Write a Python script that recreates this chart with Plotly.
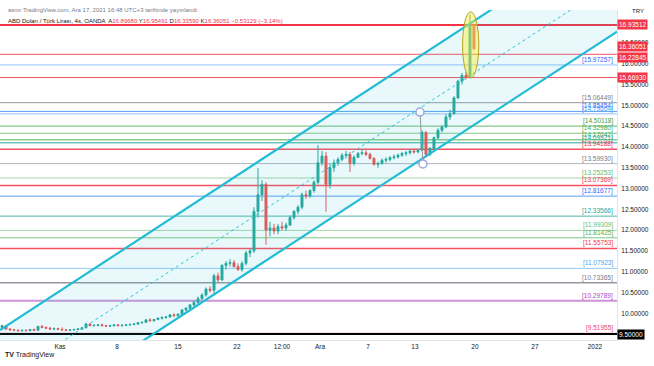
import plotly.graph_objects as go

# ---------------- data ----------------
# 8-hour bars of USD/TRY, x = trading-day index (0 = Mon 25 Oct 2021)
opens = [
    9.66, 9.70, 9.62,  9.60, 9.59, 9.58,  9.59, 9.58, 9.61,  9.59, 9.68, 9.66,  9.64, 9.62, 9.63,
    9.61, 9.60, 9.59,  9.60, 9.61, 9.62,  9.65, 9.74, 9.70,  9.71, 9.72, 9.70,  9.69, 9.70, 9.72,
    9.70, 9.71, 9.72,  9.73, 9.74, 9.77,  9.78, 9.84, 9.82,  9.85, 9.88, 9.90,  9.91, 9.96, 9.94,
    9.98, 10.08, 10.12,  10.20, 10.26, 10.35,  10.44, 10.58, 10.55,  10.90, 10.80, 11.15,  11.20, 11.22, 11.12,
    11.05, 11.20, 11.45,  11.50, 12.45, 12.85,  13.10, 12.00, 12.05,  11.98, 12.08, 12.05,  12.12, 12.30, 12.45,
    12.55, 12.85, 12.82,  12.95, 13.15, 13.62,  13.78, 13.10, 13.50,  13.62, 13.70, 13.80,  13.82, 13.60, 13.75,
    13.84, 13.86, 13.82,  13.72, 13.58, 13.60,  13.68, 13.70, 13.74,  13.76, 13.80, 13.84,  13.86, 13.90, 13.88,
    13.92, 14.35, 13.82,  13.96, 14.22, 14.40,  14.48, 14.72, 14.80,  15.18, 15.58, 15.72,  15.68, 16.8968,
]
highs = [
    9.72, 9.71, 9.64,  9.62, 9.61, 9.60,  9.61, 9.62, 9.63,  9.70, 9.72, 9.68,  9.67, 9.66, 9.65,
    9.66, 9.62, 9.61,  9.62, 9.64, 9.66,  9.77, 9.76, 9.73,  9.74, 9.75, 9.72,  9.72, 9.73, 9.74,
    9.73, 9.74, 9.75,  9.76, 9.78, 9.80,  9.86, 9.88, 9.86,  9.90, 9.92, 9.93,  9.98, 10.00, 9.99,
    10.10, 10.15, 10.22,  10.30, 10.40, 10.48,  10.62, 10.65, 10.95,  10.98, 11.18, 11.25,  11.30, 11.28, 11.20,
    11.25, 11.50, 11.55,  12.55, 13.49, 13.20,  13.15, 12.20, 12.15,  12.15, 12.20, 12.18,  12.35, 12.48, 12.60,
    12.90, 12.95, 12.98,  13.20, 14.05, 13.90,  13.88, 13.60, 13.70,  13.75, 13.85, 13.90,  13.88, 13.80, 13.88,
    13.95, 13.92, 13.86,  13.76, 13.65, 13.72,  13.75, 13.78, 13.82,  13.84, 13.88, 13.90,  13.94, 13.96, 13.95,
    14.40, 14.38, 14.00,  14.25, 14.45, 14.52,  14.78, 14.90, 15.22,  15.62, 15.78, 15.80,  17.20, 16.95491,
]
lows = [
    9.63, 9.60, 9.58,  9.57, 9.56, 9.56,  9.57, 9.57, 9.58,  9.58, 9.64, 9.62,  9.60, 9.59, 9.60,
    9.58, 9.57, 9.57,  9.58, 9.59, 9.60,  9.64, 9.69, 9.68,  9.68, 9.69, 9.67,  9.67, 9.68, 9.69,
    9.68, 9.69, 9.70,  9.71, 9.72, 9.75,  9.77, 9.80, 9.80,  9.83, 9.85, 9.87,  9.89, 9.92, 9.92,
    9.97, 10.04, 10.10,  10.16, 10.22, 10.32,  10.40, 10.50, 10.45,  10.75, 10.78, 11.05,  11.12, 11.10, 11.02,
    11.00, 11.15, 11.35,  11.45, 12.30, 12.70,  11.65, 11.85, 11.90,  11.90, 12.00, 11.98,  12.10, 12.25, 12.38,
    12.50, 12.75, 12.78,  12.90, 13.10, 13.55,  12.44, 13.00, 13.40,  13.55, 13.65, 13.72,  13.40, 13.55, 13.74,
    13.80, 13.78, 13.70,  13.55, 13.50, 13.58,  13.62, 13.65, 13.70,  13.72, 13.76, 13.78,  13.82, 13.84, 13.85,
    13.90, 13.75, 13.78,  13.92, 14.18, 14.35,  14.45, 14.65, 14.78,  15.15, 15.50, 15.62,  15.65, 16.3359,
]
closes = [
    9.70, 9.62, 9.60,  9.59, 9.58, 9.59,  9.58, 9.61, 9.59,  9.68, 9.66, 9.64,  9.62, 9.63, 9.61,
    9.60, 9.59, 9.60,  9.61, 9.62, 9.65,  9.74, 9.70, 9.71,  9.72, 9.70, 9.69,  9.70, 9.72, 9.70,
    9.71, 9.72, 9.73,  9.74, 9.77, 9.78,  9.84, 9.82, 9.85,  9.88, 9.90, 9.91,  9.96, 9.94, 9.98,
    10.08, 10.12, 10.20,  10.26, 10.35, 10.44,  10.58, 10.55, 10.90,  10.80, 11.15, 11.20,  11.22, 11.12, 11.05,
    11.20, 11.45, 11.50,  12.45, 12.85, 13.10,  12.00, 12.05, 11.98,  12.08, 12.05, 12.12,  12.30, 12.45, 12.55,
    12.85, 12.82, 12.95,  13.15, 13.62, 13.78,  13.10, 13.50, 13.62,  13.70, 13.80, 13.82,  13.60, 13.75, 13.84,
    13.86, 13.82, 13.72,  13.58, 13.60, 13.68,  13.70, 13.74, 13.76,  13.80, 13.84, 13.86,  13.90, 13.88, 13.92,
    14.35, 13.82, 13.96,  14.22, 14.40, 14.48,  14.72, 14.80, 15.18,  15.58, 15.72, 15.68,  16.90, 16.36051,
]
bars_per_day = 3

# horizontal levels: value, line colour, line width, label colour (None = no bracket label)
level_values = [16.93512, 16.22845, 15.97257, 15.66930, 15.06449, 14.85454, 14.79604, 14.50118,
                14.32980, 14.17042, 14.09921, 13.94188, 13.59930, 13.25253, 13.07369, 12.81677,
                12.33566, 11.99309, 11.81425, 11.55753, 11.07923, 10.73365, 10.29789, 9.51955, 9.50000]
level_line_colors = ["#f23645", "#f7525f", "#90bff9", "#f7525f", "#9598a1", "#5b9cf6", "#90bff9", "#66bb6a",
                     "#81c784", "#4caf50", "#26a69a", "#f7525f", "#b2b5be", "#a5d6a7", "#f7525f", "#5b9cf6",
                     "#4db6ac", "#a5d6a7", "#81c784", "#f7525f", "#90caf9", "#9598a1", "#ce93d8", "#f48fb1", "#000000"]
level_widths = [2, 1, 1, 1, 1, 1, 1, 1, 1, 1, 1, 1.5, 1, 1, 1.5, 1, 1, 1, 1, 1.5, 1, 1.5, 2, 1, 2]
level_label_colors = [None, None, "#2962ff", None, "#787b86", "#2962ff", "#42a5f5", "#43a047",
                      "#4caf50", "#4caf50", "#26a69a", "#f23645", "#787b86", "#66bb6a", "#f23645", "#2962ff",
                      "#26a69a", "#66bb6a", "#4caf50", "#f23645", "#42a5f5", "#787b86", "#ab47bc", "#ec407a", None]

# price-scale badges: value, background, vertical nudge (px)
badge_values = [16.93512, 16.36051, 16.22845, 15.66930, 9.50000]
badge_colors = ["#f23645", "#f23645", "#f23645", "#f23645", "#000000"]
badge_nudge = [0, 2, -3, 0, 0]

# parallel channel (trading-day, price)
channel_x = [0, 51.42]
channel_upper = [9.596, 19.274]
channel_mid = [8.345, 18.023]
channel_lower = [7.094, 16.772]

# yellow ellipse around the last candles
ellipse_x = [38.55, 39.9]
ellipse_y = [15.66, 17.25]

# price-range points (two hollow circles)
range_x = [35.0, 35.25]
range_y = [14.84, 13.59]

# time axis ticks
tick_days = [5, 9.75, 14.83, 19.75, 23.5, 26.67, 30.67, 34.58, 39.58, 44.58, 49.58]
tick_text = ["Kas", "8", "15", "22", "12:00", "Ara", "7", "13", "20", "27", "2022"]
price_ticks = [10.0, 10.5, 11.0, 11.5, 12.0, 12.5, 13.0, 13.5, 14.0, 14.5, 15.0, 15.5, 16.0, 16.5]

x_range = [0, 51.42]
y_range = [9.356, 17.294]

# ---------------- figure ----------------
FONT = "Liberation Sans"
bar_x = [i / bars_per_day + 0.5 / bars_per_day for i in range(len(closes))]

fig = go.Figure()

# channel fill + lines
fig.add_trace(go.Scatter(x=channel_x, y=channel_lower, mode="lines",
                         line=dict(color="#22bcd4", width=2.2), hoverinfo="skip", showlegend=False))
fig.add_trace(go.Scatter(x=channel_x, y=channel_upper, mode="lines", fill="tonexty",
                         fillcolor="rgba(38,198,218,0.10)",
                         line=dict(color="#22bcd4", width=2.2), hoverinfo="skip", showlegend=False))
fig.add_trace(go.Scatter(x=channel_x, y=channel_mid, mode="lines",
                         line=dict(color="#26c6da", width=1, dash="dot"), hoverinfo="skip", showlegend=False))

# candles
fig.add_trace(go.Candlestick(
    x=bar_x, open=opens, high=highs, low=lows, close=closes,
    increasing=dict(line=dict(color="#26a69a", width=1), fillcolor="#26a69a"),
    decreasing=dict(line=dict(color="#ef5350", width=1), fillcolor="#ef5350"),
    whiskerwidth=0, showlegend=False, hoverinfo="skip"))

# price range marker
fig.add_trace(go.Scatter(x=range_x, y=range_y, mode="lines+markers",
                         line=dict(color="#9598a1", width=1),
                         marker=dict(size=8, color="rgba(255,255,255,0.9)",
                                     line=dict(color="#9fa8da", width=1.5)),
                         hoverinfo="skip", showlegend=False))

shapes = []
annotations = []
for v, lc, w, tc in zip(level_values, level_line_colors, level_widths, level_label_colors):
    shapes.append(dict(type="line", xref="paper", x0=0, x1=1, yref="y", y0=v, y1=v,
                       line=dict(color=lc, width=w), layer="below"))
    if tc:
        annotations.append(dict(xref="paper", x=0.997, xanchor="right", yref="y", y=v,
                                yanchor="bottom", yshift=-1, text=f"[{v:.5f}]", showarrow=False,
                                font=dict(family=FONT, size=6.5, color=tc)))

shapes.append(dict(type="circle", xref="x", yref="y", x0=ellipse_x[0], x1=ellipse_x[1],
                   y0=ellipse_y[0], y1=ellipse_y[1], fillcolor="rgba(255,235,59,0.45)",
                   line=dict(color="#b5a41c", width=1)))

for v, bc, n in zip(badge_values, badge_colors, badge_nudge):
    annotations.append(dict(xref="paper", x=1, xanchor="left", xshift=0, yref="y", y=v, yshift=n,
                            text=f"{v:.5f}", showarrow=False, bgcolor=bc, borderpad=1,
                            font=dict(family=FONT, size=6.5, color="white")))

annotations.append(dict(xref="paper", x=1, xanchor="left", xshift=13, yref="paper", y=0.998,
                        yanchor="middle", text="TRY", showarrow=False,
                        font=dict(family=FONT, size=6, color="#131722")))
annotations.append(dict(xref="paper", x=0.01, xanchor="left", yref="paper", y=1.015,
                        text="asmr TradingView.com, Ara 17, 2021 16:48 UTC+3 tarihinde yayınlandı",
                        showarrow=False, font=dict(family=FONT, size=6, color="#787b86")))
red = "#f23645"
hdr = ("ABD Doları / Türk Lirası, 4s, OANDA  "
       f"A<span style='color:{red}'>16.89680</span> "
       f"Y<span style='color:{red}'>16.95491</span> "
       f"D<span style='color:{red}'>16.33590</span> "
       f"K<span style='color:{red}'>16.36051</span> "
       f"<span style='color:{red}'>−0.53129 (−3.14%)</span>")
annotations.append(dict(xref="paper", x=0.01, xanchor="left", yref="paper", y=0.982,
                        text=hdr, showarrow=False, font=dict(family=FONT, size=6, color="#131722")))
annotations.append(dict(xref="paper", x=0.005, xanchor="left", yref="paper", y=-0.064,
                        text="<b>TV</b> TradingView", showarrow=False,
                        font=dict(family=FONT, size=7, color="#131722")))

fig.update_layout(
    width=654, height=366,
    margin=dict(l=0, r=37, t=10, b=26),
    paper_bgcolor="white", plot_bgcolor="white",
    shapes=shapes, annotations=annotations,
    xaxis=dict(range=x_range, tickvals=tick_days, ticktext=tick_text, showgrid=False,
               zeroline=False, showline=True, linecolor="#e0e3eb", ticks="",
               tickfont=dict(family=FONT, size=6.5, color="#131722"),
               rangeslider=dict(visible=False), fixedrange=True),
    yaxis=dict(range=y_range, side="right", tickvals=price_ticks, tickformat=".5f",
               showgrid=False, zeroline=False, showline=True, linecolor="#e0e3eb", ticks="",
               ticklabelstandoff=2,
               tickfont=dict(family=FONT, size=6.5, color="#131722"), fixedrange=True),
    font=dict(family=FONT),
)

fig.write_html("out.html", config={"displayModeBar": False},
               post_script="document.body.style.margin='0px';document.body.style.overflow='hidden';")
